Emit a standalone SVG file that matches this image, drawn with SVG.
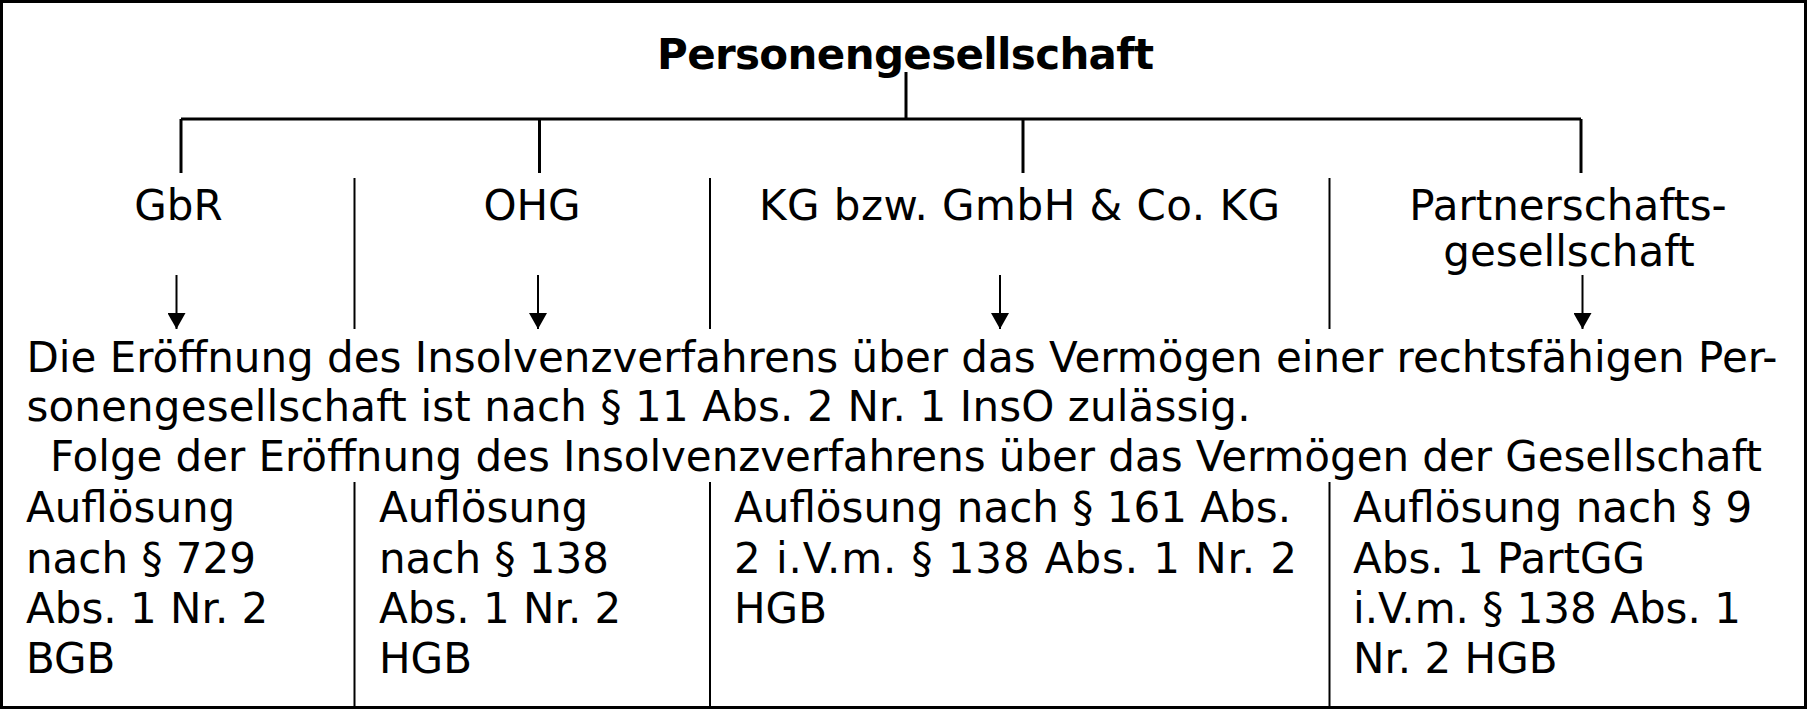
<svg xmlns="http://www.w3.org/2000/svg" width="1809" height="710" viewBox="0 0 1809 710">
<style>
text{font-family:"DejaVu Sans","Verdana","Liberation Sans",sans-serif;font-size:42px;fill:#000}
.b{font-weight:bold}
.m{text-anchor:middle}
.c{stroke:#000;stroke-width:3;fill:none}
.s{stroke:#000;stroke-width:2;fill:none}
.a{stroke:#000;stroke-width:2;fill:none}
</style>
<defs>
<marker id="ah" viewBox="0 0 16 18" refX="16" refY="9" markerWidth="16" markerHeight="18" markerUnits="userSpaceOnUse" orient="auto">
<path d="M0,0 L16,9 L0,18 z" fill="#000"/>
</marker>
</defs>
<rect x="1.5" y="1.5" width="1804" height="706" fill="#fff" stroke="#000" stroke-width="3"/>
<g id="connectors">
<line class="c" x1="906" y1="72" x2="906" y2="119"/>
<line class="c" x1="181" y1="119" x2="1581" y2="119"/>
<line class="c" x1="181" y1="119" x2="181" y2="173"/>
<line class="c" x1="539.5" y1="119" x2="539.5" y2="173"/>
<line class="c" x1="1023" y1="119" x2="1023" y2="173"/>
<line class="c" x1="1581" y1="119" x2="1581" y2="173"/>
<line class="a" x1="176.5" y1="275" x2="176.5" y2="329" marker-end="url(#ah)"/>
<line class="a" x1="538" y1="275" x2="538" y2="329" marker-end="url(#ah)"/>
<line class="a" x1="1000" y1="275" x2="1000" y2="329" marker-end="url(#ah)"/>
<line class="a" x1="1582.5" y1="275" x2="1582.5" y2="329" marker-end="url(#ah)"/>
</g>
<g id="separators">
<line class="s" x1="354.5" y1="178" x2="354.5" y2="329"/>
<line class="s" x1="710" y1="178" x2="710" y2="329"/>
<line class="s" x1="1329.5" y1="178" x2="1329.5" y2="329"/>
<line class="s" x1="354.5" y1="482" x2="354.5" y2="707"/>
<line class="s" x1="710" y1="482" x2="710" y2="707"/>
<line class="s" x1="1329.5" y1="482" x2="1329.5" y2="707"/>
</g>
<g id="title"><text class="b m" x="905.5" y="69" textLength="497">Personengesellschaft</text></g>
<g id="gbr"><text class="m" x="178.5" y="220">GbR</text></g>
<g id="ohg"><text class="m" x="532" y="220">OHG</text></g>
<g id="kg"><text class="m" x="1019.5" y="220" textLength="521">KG bzw. GmbH &amp; Co. KG</text></g>
<g id="partg"><text class="m" x="1568" y="220">Partnerschafts-</text><text class="m" x="1569" y="266">gesellschaft</text></g>
<g id="insolvenz">
<text x="26.5" y="371.5" textLength="1751">Die Eröffnung des Insolvenzverfahrens über das Vermögen einer rechtsfähigen Per-</text>
<text x="26.5" y="421" textLength="1224">sonengesellschaft ist nach § 11 Abs. 2 Nr. 1 InsO zulässig.</text>
</g>
<g id="folge"><text x="50" y="471" textLength="1712">Folge der Eröffnung des Insolvenzverfahrens über das Vermögen der Gesellschaft</text></g>
<g id="col-gbr">
<text x="26" y="522">Auflösung</text>
<text x="26" y="572.5">nach § 729</text>
<text x="26" y="623">Abs. 1 Nr. 2</text>
<text x="26" y="673">BGB</text>
</g>
<g id="col-ohg">
<text x="379" y="522">Auflösung</text>
<text x="379" y="572.5">nach § 138</text>
<text x="379" y="623">Abs. 1 Nr. 2</text>
<text x="379" y="673">HGB</text>
</g>
<g id="col-kg">
<text x="734" y="522" textLength="557">Auflösung nach § 161 Abs.</text>
<text x="734" y="572.5" textLength="563">2 i.V.m. § 138 Abs. 1 Nr. 2</text>
<text x="734" y="623">HGB</text>
</g>
<g id="col-partg">
<text x="1353" y="522">Auflösung nach § 9</text>
<text x="1353" y="572.5">Abs. 1 PartGG</text>
<text x="1353" y="623">i.V.m. § 138 Abs. 1</text>
<text x="1353" y="673">Nr. 2 HGB</text>
</g>
</svg>
